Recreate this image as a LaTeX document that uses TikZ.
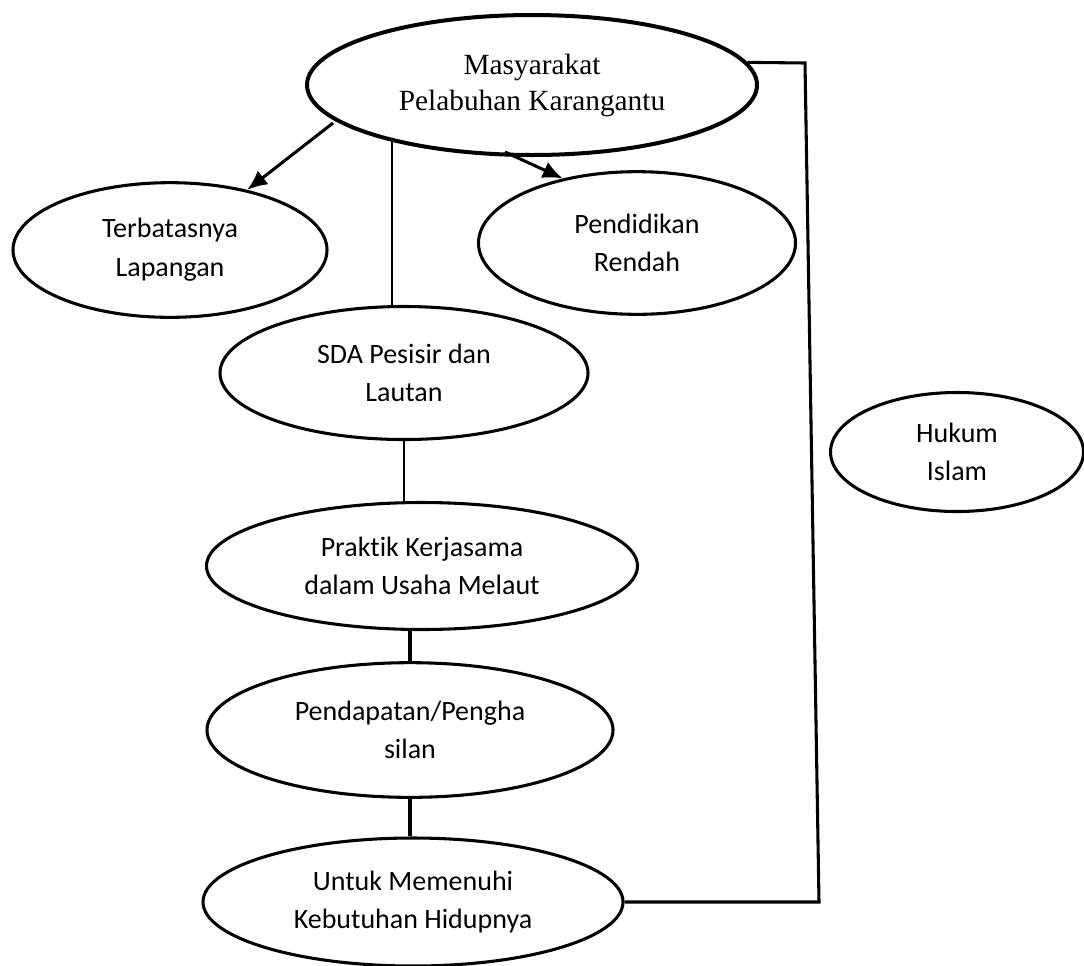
\documentclass[tikz,border=0pt]{standalone}
\usepackage{fontspec}
\setmainfont[Ligatures=NoCommon]{Carlito}
\newfontfamily\timesfont{Liberation Serif}
\usetikzlibrary{shapes.geometric,arrows.meta}
\begin{document}
\begin{tikzpicture}[x=0.75pt, y=-0.75pt,
    oval/.style={draw, ellipse, line width=2.3pt, inner sep=0pt, align=center,
      font=\fontsize{21}{29}\selectfont},
    link/.style={line width=2.3pt},
    thinlink/.style={line width=1.3pt},
    arr/.style={line width=2.3pt, -{Latex[length=15pt, width=13pt]}}]
  \useasboundingbox (0,0) rectangle (1084,965);
  \node[oval, line width=3pt, minimum width=337.5pt, minimum height=105pt,
    font=\timesfont\fontsize{22}{27}\selectfont] (mas) at (532,85) {Masyarakat\\Pelabuhan Karangantu};
  \node[oval, minimum width=235.5pt, minimum height=101pt] (terb) at (170,250) {Terbatasnya\\Lapangan};
  \node[oval, minimum width=237.75pt, minimum height=107pt] (pend) at (637,243) {Pendidikan\\Rendah};
  \node[oval, minimum width=276pt, minimum height=99.75pt] (sda) at (404,373) {SDA Pesisir dan\\Lautan};
  \node[oval, minimum width=323.25pt, minimum height=95.25pt] (prak) at (422,566) {Praktik Kerjasama\\dalam Usaha Melaut};
  \node[oval, minimum width=304.5pt, minimum height=101pt] (pdpt) at (410,730) {Pendapatan/Pengha\\silan};
  \node[oval, minimum width=315pt, minimum height=96pt] (untuk) at (413,902) {Untuk Memenuhi\\Kebutuhan Hidupnya};
  \node[oval, minimum width=189.75pt, minimum height=89.25pt] (hukum) at (957,452) {Hukum\\Islam};
  % arrows out of the top oval
  \coordinate (a1) at (333,123);
  \coordinate (a2) at (505,152);
  \draw[arr] (a1) -- (terb);
  \draw[arr] (a2) -- (pend.139);
  % main column
  \draw[thinlink] (mas.202) -- (mas.202 |- sda.north);
  \draw[thinlink] (sda.south) -- (sda.south |- prak.north);
  \draw[link] (pdpt.north |- prak.south) -- (pdpt.north);
  \draw[link] (pdpt.south) -- (pdpt.south |- untuk.north);
  % right return line
  \coordinate (c1) at (805,63);
  \coordinate (c2) at (819,902);
  \draw[link] (mas.6) -- (c1) -- (c2) -- (untuk.east);
\end{tikzpicture}
\end{document}
